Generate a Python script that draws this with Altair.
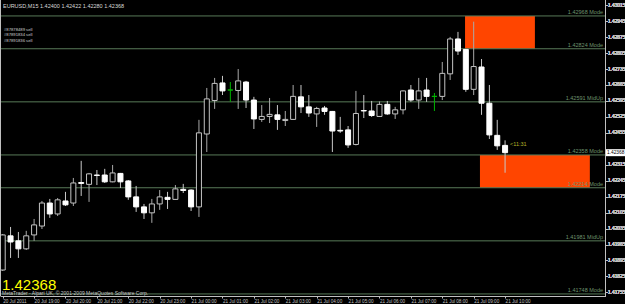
import json
import altair as alt
import pandas as pd

# EURUSD M15, first bar 20 Jul 2011 18:00, last bar 21 Jul 2011 10:00
opens = [1.41853, 1.42003, 1.41981, 1.41946, 1.42007, 1.42046, 1.42147, 1.42099, 1.42156, 1.42147,
         1.42237, 1.42229, 1.42270, 1.42270, 1.42240, 1.42277, 1.42244, 1.42174, 1.42130, 1.42104,
         1.42143, 1.42172, 1.42163, 1.42207, 1.42204, 1.42130, 1.42450, 1.42597, 1.42674, 1.42643,
         1.42641, 1.42678, 1.42599, 1.42514, 1.42527, 1.42534, 1.42509, 1.42514, 1.42613, 1.42569,
         1.42538, 1.42564, 1.42549, 1.42466, 1.42468, 1.42404, 1.42553, 1.42551, 1.42527, 1.42580,
         1.42538, 1.42556, 1.42643, 1.42599, 1.42643, 1.42615, 1.42615, 1.42714, 1.42867, 1.42821,
         1.42646, 1.42744, 1.42585, 1.42444, 1.42400]
highs = [1.42011, 1.42042, 1.42020, 1.42025, 1.42077, 1.42156, 1.42165, 1.42169, 1.42196, 1.42257,
         1.42332, 1.42279, 1.42292, 1.42297, 1.42314, 1.42279, 1.42248, 1.42222, 1.42143, 1.42165,
         1.42204, 1.42196, 1.42226, 1.42231, 1.42207, 1.42512, 1.42652, 1.42696, 1.42705, 1.42678,
         1.42735, 1.42683, 1.42613, 1.42577, 1.42608, 1.42577, 1.42551, 1.42665, 1.42665, 1.42621,
         1.42569, 1.42573, 1.42551, 1.42525, 1.42485, 1.42639, 1.42621, 1.42595, 1.42593, 1.42595,
         1.42569, 1.42641, 1.42665, 1.42696, 1.42696, 1.42630, 1.42766, 1.42876, 1.42898, 1.42823,
         1.42943, 1.42779, 1.42665, 1.42512, 1.42422]
lows = [1.41849, 1.41906, 1.41906, 1.41941, 1.41981, 1.42033, 1.42082, 1.42090, 1.42134, 1.42134,
        1.42178, 1.42152, 1.42226, 1.42235, 1.42238, 1.42213, 1.42161, 1.42108, 1.42077, 1.42060,
        1.42117, 1.42121, 1.42161, 1.42191, 1.42112, 1.42086, 1.42371, 1.42560, 1.42621, 1.42591,
        1.42560, 1.42564, 1.42472, 1.42503, 1.42498, 1.42468, 1.42485, 1.42512, 1.42542, 1.42525,
        1.42481, 1.42534, 1.42371, 1.42455, 1.42389, 1.42400, 1.42520, 1.42525, 1.42525, 1.42534,
        1.42516, 1.42536, 1.42591, 1.42560, 1.42591, 1.42551, 1.42599, 1.42687, 1.42797, 1.42635,
        1.42621, 1.42534, 1.42428, 1.42380, 1.42280]
closes = [1.42007, 1.41976, 1.41946, 1.42003, 1.42051, 1.42147, 1.42099, 1.42161, 1.42139, 1.42235,
          1.42233, 1.42275, 1.42268, 1.42240, 1.42279, 1.42240, 1.42174, 1.42130, 1.42104, 1.42143,
          1.42174, 1.42163, 1.42209, 1.42202, 1.42130, 1.42455, 1.42604, 1.42672, 1.42639, 1.42643,
          1.42683, 1.42599, 1.42516, 1.42527, 1.42536, 1.42514, 1.42514, 1.42615, 1.42569, 1.42542,
          1.42562, 1.42549, 1.42463, 1.42463, 1.42402, 1.42540, 1.42551, 1.42531, 1.42580, 1.42538,
          1.42556, 1.42639, 1.42599, 1.42639, 1.42615, 1.42615, 1.42716, 1.42867, 1.42814, 1.42646,
          1.42746, 1.42585, 1.42446, 1.42398, 1.42368]

time_label_bars = [0, 4, 8, 12, 16, 20, 24, 28, 32, 36, 40, 44, 48, 52, 56, 60, 64]
time_labels = ["20 Jul 2011", "20 Jul 19:00", "20 Jul 20:00", "20 Jul 21:00", "20 Jul 22:00",
               "20 Jul 23:00", "21 Jul 00:00", "21 Jul 01:00", "21 Jul 02:00", "21 Jul 03:00",
               "21 Jul 04:00", "21 Jul 05:00", "21 Jul 06:00", "21 Jul 07:00", "21 Jul 08:00",
               "21 Jul 09:00", "21 Jul 10:00"]

price_ticks = [1.41755, 1.41825, 1.41895, 1.41965, 1.42035, 1.42105, 1.42175, 1.42245, 1.42315,
               1.42455, 1.42525, 1.42595, 1.42665, 1.42735, 1.42805, 1.42875, 1.42945, 1.43015]

level_prices = [1.42968, 1.42824, 1.42591, 1.42358, 1.42214, 1.41981, 1.41748]
level_names = ["Mode", "Mode", "MidUp", "Mode", "Mode", "MidUp", "Mode"]

zone_start = [58.9, 60.8]
zone_end = [67.8, 74.8]
zone_top = [1.42968, 1.42358]
zone_bottom = [1.42824, 1.42214]

bid = 1.42368
header = "EURUSD,M15  1.42400 1.42422 1.42280 1.42368"
orders = ["#87878489 sell", "#87891834 sell", "#87891836 sell"]
copyright_text = "MetaTrader - Alpari UK, \u00a9 2001-2009 MetaQuotes Software Corp."
timer_text = "<11:31"

FONT = "Liberation Sans"
GRAY = "#c0c0c0"
LEVEL = "#587a58"

candles = pd.DataFrame({"bar": list(range(len(opens))), "open": opens, "high": highs,
                        "low": lows, "close": closes})
levels = pd.DataFrame({"price": level_prices, "name": level_names})
levels["label"] = levels["price"].map(lambda v: f"{v:.5f}") + "   " + levels["name"]
zones = pd.DataFrame({"x0": zone_start, "x1": zone_end, "top": zone_top, "bottom": zone_bottom})

xscale = alt.Scale(domain=[-0.344, 76.73], nice=False, zero=False)
yscale = alt.Scale(domain=[1.41739, 1.43038], nice=False, zero=False)
xaxis = alt.Axis(values=time_label_bars, orient="bottom", title=None, grid=False,
                 labelExpr=json.dumps(time_labels) + "[round(datum.value / 4)]",
                 labelFont=FONT, labelFontSize=4.6, labelColor=GRAY, labelAlign="left",
                 labelBaseline="top", labelPadding=0.5, labelFlush=False, labelOverlap=False,
                 tickSize=2, tickColor=GRAY, domainColor=GRAY)
yaxis = alt.Axis(values=price_ticks, orient="right", title=None, grid=False, format=".5f",
                 labelFont=FONT, labelFontSize=4.8, labelColor=GRAY, labelPadding=0.5,
                 labelFlush=False, labelOverlap=False, tickSize=2, tickColor=GRAY,
                 domainColor=GRAY)


def X(field):
    return alt.X(field, type="quantitative", scale=xscale, axis=xaxis)


def Y(field):
    return alt.Y(field, type="quantitative", scale=yscale, axis=yaxis)


kinds = ["up", "down", "doji"]
kind_expr = "datum.close > datum.open ? 'up' : (datum.close < datum.open ? 'down' : 'doji')"

zone_layer = alt.Chart(zones).mark_rect(color="#ff4500").encode(
    x=X("x0"), x2="x1", y=Y("top"), y2="bottom")

level_layer = alt.Chart(levels).mark_rule(color=LEVEL, strokeWidth=1).encode(y=Y("price"))

level_text = alt.Chart(levels).mark_text(
    align="right", baseline="bottom", dy=-1, font=FONT, fontSize=5.5, color="#6e946e"
).encode(x=alt.value(603), y=Y("price"), text="label")

wicks = alt.Chart(candles).transform_calculate(kind=kind_expr).mark_rule(strokeWidth=1).encode(
    x=X("bar"), y=Y("low"), y2="high",
    color=alt.Color("kind:N", scale=alt.Scale(domain=kinds, range=["#a8a8a8", "#c8c8c8", "#00b400"]),
                    legend=None))

bodies = alt.Chart(candles).transform_calculate(
    kind=kind_expr, xl="datum.bar - 0.32", xr="datum.bar + 0.32"
).mark_rect(strokeWidth=1).encode(
    x=X("xl:Q"), x2="xr:Q", y=Y("open"), y2="close",
    fill=alt.Fill("kind:N", scale=alt.Scale(domain=kinds, range=["#000000", "#ffffff", "#00b400"]),
                  legend=None),
    stroke=alt.Stroke("kind:N", scale=alt.Scale(domain=kinds, range=["#c4c4c4", "#ffffff", "#00b400"]),
                      legend=None))

timer = alt.Chart(pd.DataFrame({"bar": [len(opens) - 1], "price": [opens[-1]], "t": [timer_text]})).mark_text(
    align="left", baseline="middle", dx=5, dy=-1, font=FONT, fontSize=5.5, color="#b4b428"
).encode(x=X("bar"), y=Y("price"), text="t")

bid_box = alt.Chart(pd.DataFrame({"price": [bid]})).mark_tick(
    orient="horizontal", thickness=7, size=19, color="#ffffff", opacity=1
).encode(x=alt.value(615.5), y=Y("price"))
bid_text = alt.Chart(pd.DataFrame({"price": [bid]})).mark_text(
    align="left", baseline="middle", font=FONT, fontSize=4.8, color="#000000"
).encode(x=alt.value(607), y=Y("price"), text=alt.value(f"{bid:.5f}"))

left_border = alt.Chart(pd.DataFrame({"a": [0]})).mark_rule(color=GRAY, strokeWidth=1).encode(
    x=alt.value(0.5), y=alt.value(0), y2=alt.value(296))

header_text = alt.Chart(pd.DataFrame({"t": [header]})).mark_text(
    align="left", baseline="middle", font=FONT, fontSize=5.5, color="#d8d8d8"
).encode(x=alt.value(3), y=alt.value(6), text="t")

orders_df = pd.DataFrame({"t": orders, "row": list(range(len(orders)))})
orders_text = alt.Chart(orders_df).mark_text(
    align="left", baseline="middle", font=FONT, fontSize=4.2, color="#d0d0d0"
).encode(x=alt.value(4),
         y=alt.Y("row:Q", scale=alt.Scale(domain=[0, len(orders) - 1], range=[30, 40.5]), axis=None),
         text="t")

big_bid = alt.Chart(pd.DataFrame({"t": [f"{bid:.5f}"]})).mark_text(
    align="left", baseline="alphabetic", font=FONT, fontSize=15, color="#ffff00"
).encode(x=alt.value(2), y=alt.value(290), text="t")

copy_text = alt.Chart(pd.DataFrame({"t": [copyright_text]})).mark_text(
    align="left", baseline="middle", font=FONT, fontSize=5, color="#c8c8c8"
).encode(x=alt.value(2), y=alt.value(292.5), text="t")

chart = alt.layer(
    zone_layer, level_layer, level_text, wicks, bodies, timer, bid_box, bid_text,
    left_border, header_text, orders_text, big_bid, copy_text
).resolve_scale(y="independent").properties(
    width=605, height=296,
    padding={"left": 0, "top": 0, "right": 20, "bottom": 8},
    autosize=alt.AutoSizeParams(type="none"),
    background="#000000",
).configure_view(stroke=None, fill="#000000")

chart.save("out.html", embed_options={"renderer": "svg", "actions": False})
